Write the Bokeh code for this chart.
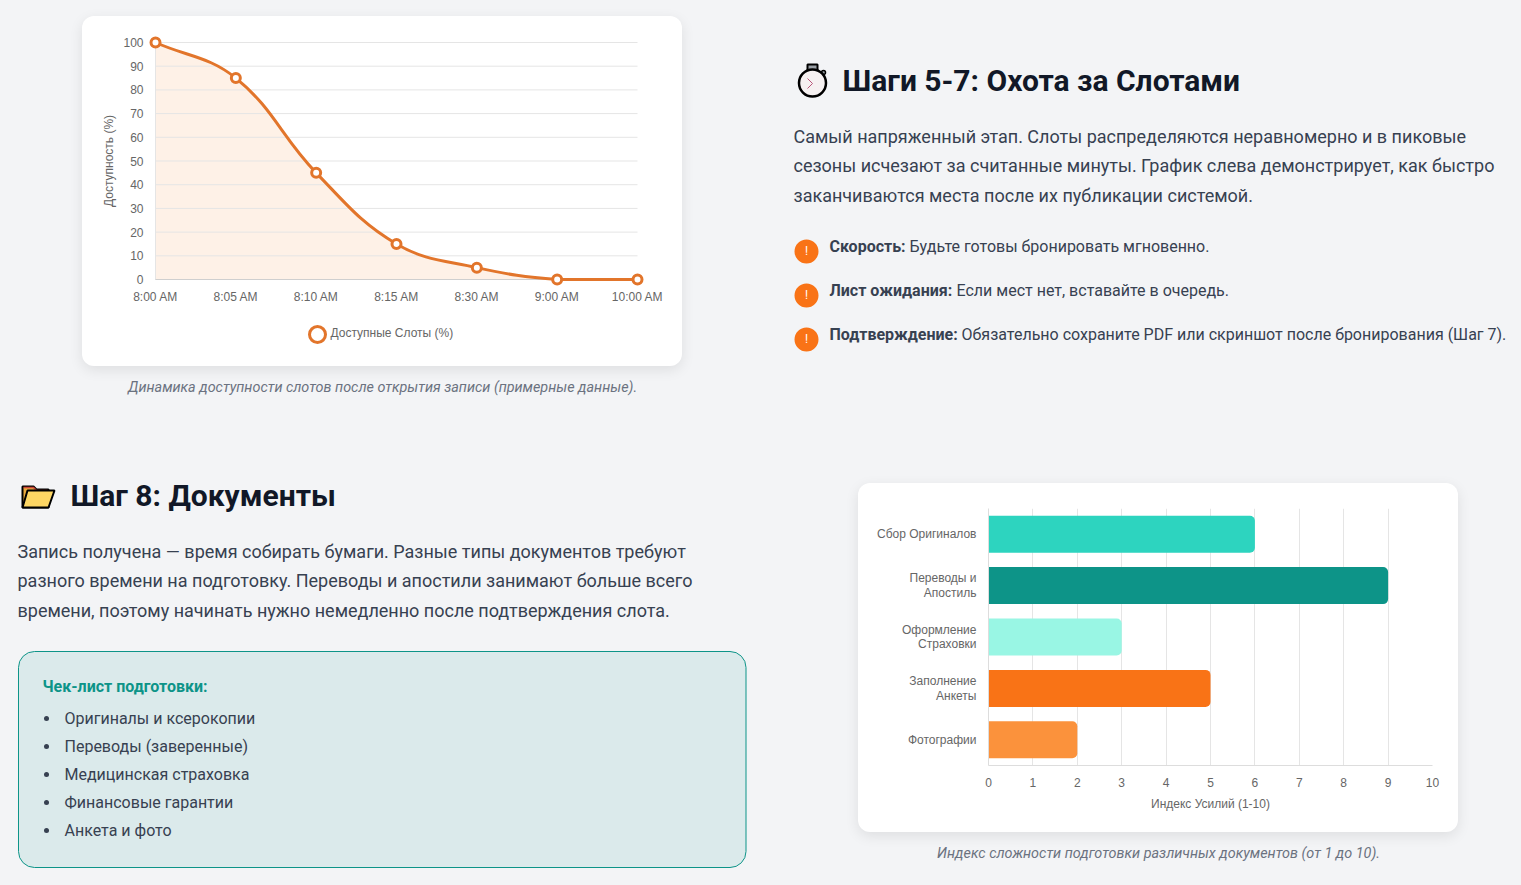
"""Slot availability and document effort charts with their page text."""
import numpy as np
from bokeh.embed import file_html
from bokeh.layouts import column, row
from bokeh.models import BoxAnnotation, FactorRange, FixedTicker, Label, Range1d, Spacer
from bokeh.plotting import figure
from bokeh.resources import INLINE

slot_times = ["8:00 AM", "8:05 AM", "8:10 AM", "8:15 AM", "8:30 AM", "9:00 AM", "10:00 AM"]
slot_values = [100, 85, 45, 15, 5, 0, 0]
slot_ticks = [0, 10, 20, 30, 40, 50, 60, 70, 80, 90, 100]

doc_names = ["Сбор Оригиналов", "Переводы и\nАпостиль", "Оформление\nСтраховки", "Заполнение\nАнкеты", "Фотографии"]
doc_effort = [6, 9, 3, 5, 2]
doc_colors = ["#2dd4bf", "#0d9488", "#99f6e4", "#f97316", "#fb923c"]
effort_ticks = [0, 1, 2, 3, 4, 5, 6, 7, 8, 9, 10]

hunt_lines = [
    "Самый напряженный этап. Слоты распределяются неравномерно и в пиковые",
    "сезоны исчезают за считанные минуты. График слева демонстрирует, как быстро",
    "заканчиваются места после их публикации системой.",
]
hunt_tips = [
    ("Скорость:", "Будьте готовы бронировать мгновенно."),
    ("Лист ожидания:", "Если мест нет, вставайте в очередь."),
    ("Подтверждение:", "Обязательно сохраните PDF или скриншот после бронирования (Шаг 7)."),
]
docs_lines = [
    "Запись получена — время собирать бумаги. Разные типы документов требуют",
    "разного времени на подготовку. Переводы и апостили занимают больше всего",
    "времени, поэтому начинать нужно немедленно после подтверждения слота.",
]
checklist = [
    "Оригиналы и ксерокопии",
    "Переводы (заверенные)",
    "Медицинская страховка",
    "Финансовые гарантии",
    "Анкета и фото",
]

PAGE_BG = "#f3f4f6"
INK = "#374151"
DARK = "#111827"
MUTED = "#6b7280"
CHART_TEXT = "#666666"
CHART_FONT = "Liberation Sans"
GRID = "#e5e5e5"
LINE = "#e2752b"
CARD = {
    "border-radius": "12px",
    "background": "white",
    "box-shadow": "0 4px 14px rgba(0,0,0,0.09)",
    "overflow": "hidden",
}


def panel(x0, y0, w, h):
    # transparent figure whose data units are page pixels, y going down
    p = figure(
        width=w, height=h, x_range=Range1d(x0, x0 + w), y_range=Range1d(y0 + h, y0),
        x_axis_location=None, y_axis_location=None, toolbar_location=None,
        output_backend="svg", min_border=0, tools="",
    )
    p.grid.visible = False
    p.outline_line_color = None
    p.background_fill_color = None
    p.border_fill_color = None
    return p


def put(p, x, y, text, size, color=INK, style="normal", align="left", font="Roboto", angle=0):
    p.add_layout(Label(
        x=x, y=y, text=text, text_font=font, text_font_size=f"{size}px", text_color=color,
        text_font_style=style, text_align=align, text_baseline="middle", angle=angle,
    ))


def style_axes(p):
    for ax in p.axis:
        ax.major_tick_line_color = None
        ax.minor_tick_line_color = None
        ax.major_label_text_font = CHART_FONT
        ax.major_label_text_font_size = "12px"
        ax.major_label_text_color = CHART_TEXT
        ax.axis_label_text_font = CHART_FONT
        ax.axis_label_text_font_size = "12px"
        ax.axis_label_text_font_style = "normal"
        ax.axis_label_text_color = CHART_TEXT


def spline(xs, ys, sx, sy, tension=0.4):
    # control points of a Chart.js style line, worked out in pixel space
    px, py = np.array(xs) * sx, np.array(ys) * sy
    n = len(px)
    before, after = np.zeros((n, 2)), np.zeros((n, 2))
    for i in range(n):
        a, b = max(i - 1, 0), min(i + 1, n - 1)
        d01 = np.hypot(px[i] - px[a], py[i] - py[a])
        d12 = np.hypot(px[b] - px[i], py[b] - py[i])
        s = d01 + d12
        dx, dy = px[b] - px[a], py[b] - py[a]
        before[i] = px[i] - tension * d01 / s * dx, py[i] - tension * d01 / s * dy
        after[i] = px[i] + tension * d12 / s * dx, py[i] + tension * d12 / s * dy
    return (before / [sx, sy], after / [sx, sy])


# availability chart: the frame fills the whole card so nothing gets clipped at its edge
UNIT_X = 482 / (len(slot_times) - 1)
UNIT_Y = 237 / 100
LEFT, RIGHT, TOP, BOTTOM = 73, 45, 26, 87
xs = list(range(len(slot_times)))


def card_x(px):
    # x value of a spot px pixels right of the first category
    return px / UNIT_X


def card_y(px):
    # y value of a spot px pixels below the zero line
    return -px / UNIT_Y


slots = figure(
    width=600, height=350, toolbar_location=None, output_backend="svg", tools="",
    x_range=Range1d(card_x(-LEFT), xs[-1] + card_x(RIGHT)),
    y_range=Range1d(card_y(BOTTOM), 100 + TOP / UNIT_Y),
    min_border=0, styles=CARD,
)
slots.outline_line_color = None
slots.background_fill_color = None
slots.border_fill_color = None
slots.grid.visible = False

before, after = spline(xs, slot_values, UNIT_X, UNIT_Y)
before[:, 1] = np.clip(before[:, 1], 0, 100)
after[:, 1] = np.clip(after[:, 1], 0, 100)

curve_x, curve_y = [], []
for i in range(len(xs) - 1):
    t = np.linspace(0, 1, 24)[:, None]
    a = np.array([xs[i], slot_values[i]])
    b = np.array([xs[i + 1], slot_values[i + 1]])
    pts = (1 - t) ** 3 * a + 3 * (1 - t) ** 2 * t * after[i] + 3 * (1 - t) * t ** 2 * before[i + 1] + t ** 3 * b
    curve_x.extend(pts[:, 0])
    curve_y.extend(pts[:, 1])

slots.varea(curve_x, 0, curve_y, fill_color="#f97316", fill_alpha=0.1)
slots.segment(0, slot_ticks, xs[-1], slot_ticks, line_color=GRID, line_width=1)
slots.segment(0, 0, 0, 100, line_color=GRID, line_width=1)
slots.segment(0, 0, xs[-1], 0, line_color="#cfcfcf", line_width=1)
slots.bezier(
    xs[:-1], slot_values[:-1], xs[1:], slot_values[1:],
    after[:-1, 0], after[:-1, 1], before[1:, 0], before[1:, 1],
    line_color=LINE, line_width=3,
)
slots.scatter(xs, slot_values, size=9, fill_color="white", line_color=LINE, line_width=3)

slots.xaxis.ticker = FixedTicker(ticks=xs)
slots.xaxis.major_label_overrides = dict(zip(xs, slot_times))
slots.xaxis.fixed_location = 0
slots.yaxis.ticker = FixedTicker(ticks=slot_ticks)
slots.yaxis.fixed_location = 0
style_axes(slots)
for ax in slots.axis:
    ax.axis_line_color = None
    ax.major_tick_out = 0
    ax.major_tick_in = 0
slots.xaxis.major_label_standoff = 10
slots.yaxis.major_label_standoff = 12
put(slots, card_x(-47), 50, "Доступность (%)", 12, CHART_TEXT, "normal", "center", CHART_FONT, np.pi / 2)

# legend key and its text under the axis
slots.scatter([card_x(162)], [card_y(55)], size=16, fill_color="white", line_color=LINE, line_width=3)
put(slots, card_x(175), card_y(53), "Доступные Слоты (%)", 12, CHART_TEXT, font=CHART_FONT)

# effort chart
effort = figure(
    width=600, height=349, toolbar_location=None, output_backend="svg", tools="",
    x_range=Range1d(0, 10), y_range=FactorRange(factors=doc_names[::-1], range_padding=0),
    min_border_left=130, min_border_right=26, min_border_top=25, min_border_bottom=67,
    styles=CARD,
)
effort.outline_line_color = None
effort.background_fill_color = None
effort.border_fill_color = None
effort.hbar(y=doc_names, right=doc_effort, left=0, height=0.72, fill_color=doc_colors,
            line_color=None, border_radius=(0, 5, 5, 0))
effort.ygrid.visible = False
effort.xgrid.grid_line_color = GRID
effort.xaxis.ticker = FixedTicker(ticks=effort_ticks)
effort.xaxis.axis_label = "Индекс Усилий (1-10)"
style_axes(effort)
for ax in effort.axis:
    ax.axis_line_color = "#dddddd"
effort.xaxis.major_label_standoff = 6
effort.xaxis.axis_label_standoff = 7
effort.yaxis.major_label_standoff = 6
effort.yaxis.major_label_text_line_height = 1.05

# text beside and under the charts
slots_note = panel(0, 366, 770, 74)
put(slots_note, 382, 387, "Динамика доступности слотов после открытия записи (примерные данные).",
    14.4, MUTED, "italic", "center")

hunt = panel(770, 0, 751, 440)
hunt.quad(left=807, right=817, top=64, bottom=70, fill_color="#9aa0a6", line_color="black", line_width=2)
hunt.circle(823, 72, radius=2, fill_color="#9aa0a6", line_color="black", line_width=1.5)
hunt.circle(812, 82.5, radius=13.5, fill_color="#f6f1f1", line_color="black", line_width=2.5)
hunt.line([807, 812, 807], [78, 83, 88], line_color="#b9577a", line_width=1)
put(hunt, 842, 80, "Шаги 5-7: Охота за Слотами", 30, DARK, "bold")
for i, line in enumerate(hunt_lines):
    put(hunt, 793, [136, 165, 195][i], line, 18)
tip_y = [246, 290, 334]
tip_text_x = [909, 956, 961]
for i, (head, rest) in enumerate(hunt_tips):
    hunt.circle(806, tip_y[i] + 5, radius=12, fill_color="#f97316", line_color=None)
    put(hunt, 806, tip_y[i] + 4, "!", 12, "white", "normal", "center")
    put(hunt, 829, tip_y[i], head, 16, INK, "bold")
    put(hunt, tip_text_x[i], tip_y[i], rest, 16)

docs = panel(0, 440, 770, 445)
docs.patch([22, 22, 33, 36, 48, 48], [507, 486, 486, 489, 489, 507],
           fill_color="#e9a93c", line_color="black", line_width=2)
docs.line([23, 33, 36, 47], [487, 487, 490, 490], line_color="#c9463a", line_width=1.5)
docs.patch([22, 27, 54, 48], [507, 490, 490, 507], fill_color="#fdd663", line_color="black", line_width=2)
put(docs, 70, 495, "Шаг 8: Документы", 30, DARK, "bold")
for i, line in enumerate(docs_lines):
    put(docs, 17, [551, 580, 610][i], line, 18)
docs.add_layout(BoxAnnotation(
    left=18, right=745.5, top=651, bottom=867, fill_color="#0d9488", fill_alpha=0.1,
    line_color="#0d9488", line_width=1, line_alpha=1, border_radius=16, level="underlay",
))
put(docs, 42, 686, "Чек-лист подготовки:", 16, "#0d9488", "bold")
docs.scatter([46] * len(checklist), [718 + 28 * i for i in range(len(checklist))],
             size=5, fill_color=INK, line_color=None)
for i, item in enumerate(checklist):
    put(docs, 64, 718 + 28 * i, item, 16)

effort_note = panel(770, 832, 751, 53)
put(effort_note, 1158, 853, "Индекс сложности подготовки различных документов (от 1 до 10).",
    14.4, MUTED, "italic", "center")

top_left = column(Spacer(height=16), row(Spacer(width=82), slots), slots_note)
bottom_right = column(Spacer(height=43), row(Spacer(width=88), effort), effort_note)
page = column(row(top_left, hunt), row(docs, bottom_right), styles={"background": PAGE_BG})

open("out.html", "w").write(file_html(page, INLINE))
